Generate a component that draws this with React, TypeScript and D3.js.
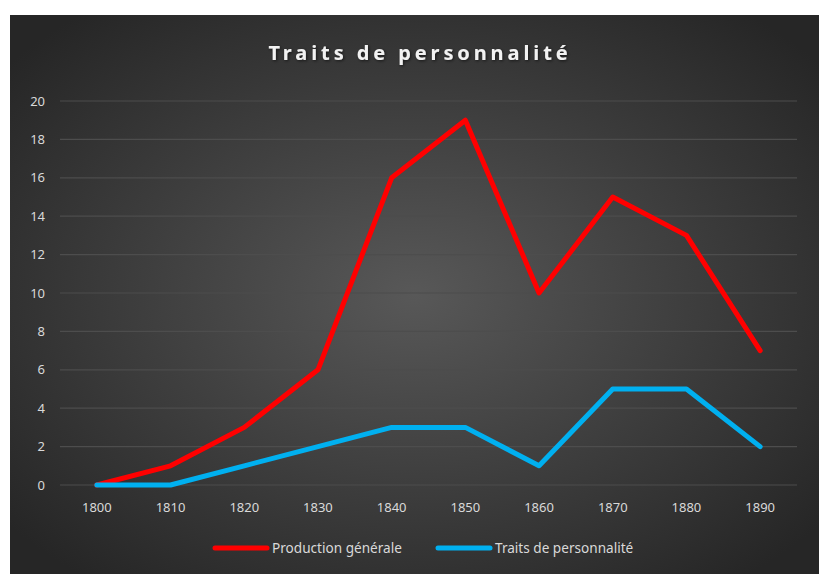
import React, { useEffect, useRef } from "react";
import * as d3 from "d3";

const years = ["1800", "1810", "1820", "1830", "1840", "1850", "1860", "1870", "1880", "1890"];
const production = [0, 1, 3, 6, 16, 19, 10, 15, 13, 7];
const traits = [0, 0, 1, 2, 3, 3, 1, 5, 5, 2];
const yTicks = [0, 2, 4, 6, 8, 10, 12, 14, 16, 18, 20];
const seriesNames = ["Production générale", "Traits de personnalité"];
const seriesColors = ["#FF0000", "#00B0F0"];

export default function App() {
  const svgRef = useRef<SVGSVGElement>(null);

  useEffect(() => {
    const width = 819;
    const height = 574;
    const svg = d3.select(svgRef.current).attr("width", width).attr("height", height);
    svg.selectAll("*").remove();

    const defs = svg.append("defs");
    const grad = defs
      .append("radialGradient")
      .attr("id", "bg")
      .attr("cx", "50%")
      .attr("cy", "50%")
      .attr("r", "65%");
    grad.append("stop").attr("offset", "0%").attr("stop-color", "#585858");
    grad.append("stop").attr("offset", "100%").attr("stop-color", "#262626");

    const shadow = defs.append("filter").attr("id", "ts").attr("x", "-10%").attr("y", "-30%").attr("width", "120%").attr("height", "160%");
    shadow
      .append("feDropShadow")
      .attr("dx", 1)
      .attr("dy", 1)
      .attr("stdDeviation", 1.5)
      .attr("flood-color", "#000")
      .attr("flood-opacity", 0.6);

    svg
      .append("rect")
      .attr("x", 10)
      .attr("y", 15)
      .attr("width", width - 10)
      .attr("height", height - 15)
      .attr("fill", "url(#bg)");

    const font = "'Noto Sans', 'Open Sans', sans-serif";

    const x = d3.scaleBand().domain(years).range([60, 797]);
    const y = d3.scaleLinear().domain([0, 20]).range([485, 101]);

    // grid
    svg
      .append("g")
      .selectAll("line")
      .data(yTicks)
      .enter()
      .append("line")
      .attr("x1", 60)
      .attr("x2", 797)
      .attr("y1", (d) => y(d))
      .attr("y2", (d) => y(d))
      .attr("stroke", "#4d4d4d")
      .attr("stroke-width", 1.2);

    svg
      .append("g")
      .selectAll("text")
      .data(yTicks)
      .enter()
      .append("text")
      .attr("x", 45)
      .attr("y", (d) => y(d))
      .attr("dy", "0.35em")
      .attr("text-anchor", "end")
      .attr("fill", "#d9d9d9")
      .attr("font-family", font)
      .attr("font-size", 13)
      .text((d) => d);

    svg
      .append("g")
      .selectAll("text")
      .data(years)
      .enter()
      .append("text")
      .attr("x", (d) => x(d)! + x.bandwidth() / 2)
      .attr("y", 507)
      .attr("dy", "0.35em")
      .attr("text-anchor", "middle")
      .attr("fill", "#d9d9d9")
      .attr("font-family", font)
      .attr("font-size", 13)
      .text((d) => d);

    const line = d3
      .line<number>()
      .x((_, i) => x(years[i])! + x.bandwidth() / 2)
      .y((d) => y(d));

    [production, traits].forEach((s, i) => {
      svg
        .append("path")
        .datum(s)
        .attr("d", line)
        .attr("fill", "none")
        .attr("stroke", seriesColors[i])
        .attr("stroke-width", 5)
        .attr("stroke-linejoin", "round")
        .attr("stroke-linecap", "round");
    });

    svg
      .append("text")
      .attr("x", 420)
      .attr("y", 53)
      .attr("dy", "0.35em")
      .attr("text-anchor", "middle")
      .attr("fill", "#f2f2f2")
      .attr("font-family", font)
      .attr("font-size", 20)
      .attr("font-weight", "bold")
      .attr("letter-spacing", 3.9)
      .attr("filter", "url(#ts)")
      .text("Traits de personnalité");

    const legendX = [213, 436];
    seriesNames.forEach((name, i) => {
      const g = svg.append("g").attr("transform", `translate(${legendX[i]},548)`);
      g.append("line")
        .attr("x1", 2)
        .attr("x2", 54)
        .attr("stroke", seriesColors[i])
        .attr("stroke-width", 5)
        .attr("stroke-linecap", "round");
      g.append("text")
        .attr("x", 59)
        .attr("dy", "0.35em")
        .attr("fill", "#d9d9d9")
        .attr("font-family", font)
        .attr("font-size", 13.6)
        .text(name);
    });
  }, []);

  return (
    <div>
      <svg ref={svgRef} style={{ position: "absolute", left: 0, top: 0 }}></svg>
    </div>
  );
}
